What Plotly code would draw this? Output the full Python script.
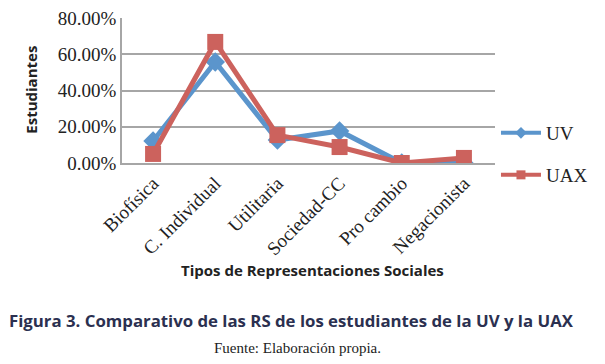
import plotly.graph_objects as go

categories = ["Biofísica", "C. Individual", "Utilitaria", "Sociedad-CC", "Pro cambio", "Negacionista"]
uv = [0.121, 0.557, 0.127, 0.177, 0.0, 0.0]
uax = [0.05, 0.668, 0.154, 0.088, 0.0, 0.028]
y_ticks = [0, 0.2, 0.4, 0.6, 0.8]
y_tick_labels = ["0.00%", "20.00%", "40.00%", "60.00%", "80.00%"]

W, H = 605, 364
L, R, T, B = 122, 99, 18, 201
BLUE, RED = "#5b95cc", "#cc625d"

fig = go.Figure()
fig.add_trace(go.Scatter(
    x=categories, y=uv, name="UV", mode="lines+markers",
    line=dict(color=BLUE, width=5),
    marker=dict(symbol="diamond", size=15, color=BLUE),
    showlegend=False,
))
fig.add_trace(go.Scatter(
    x=categories, y=uax, name="UAX", mode="lines+markers",
    line=dict(color=RED, width=5),
    marker=dict(symbol="square", size=16, color=RED),
    showlegend=False,
))
# legend entries (smaller symbols as in reference)
fig.add_trace(go.Scatter(
    x=[None], y=[None], name="UV", mode="lines+markers",
    line=dict(color=BLUE, width=4),
    marker=dict(symbol="diamond", size=9, color=BLUE),
    legend="legend",
))
fig.add_trace(go.Scatter(
    x=[None], y=[None], name="UAX", mode="lines+markers",
    line=dict(color=RED, width=4),
    marker=dict(symbol="square", size=9, color=RED),
    legend="legend2",
))

serif = "Liberation Serif"
sans = "Open Sans"
LX = (507 - L) / (W - L - R)

fig.update_layout(
    width=W, height=H,
    margin=dict(l=L, r=R, t=T, b=B),
    paper_bgcolor="white", plot_bgcolor="white",
    xaxis=dict(
        type="category", range=[-0.5, 5.5],
        showline=True, linecolor="#a6a6a6", linewidth=1.5,
        showgrid=False, ticks="", tickangle=-45,
        tickfont=dict(family=serif, size=19, color="#222"),
        automargin=False,
    ),
    yaxis=dict(
        range=[0, 0.8], tickvals=y_ticks, ticktext=y_tick_labels,
        showline=True, linecolor="#a6a6a6", linewidth=1.5,
        showgrid=True, gridcolor="#a6a6a6", gridwidth=1.5,
        zeroline=False, ticks="",
        tickfont=dict(family=serif, size=19, color="#222"),
        automargin=False,
    ),
    legend=dict(
        x=LX, y=(163 - 133) / 145, xanchor="left", yanchor="middle",
        font=dict(family=serif, size=19, color="#222"),
        bgcolor="rgba(0,0,0,0)", itemwidth=40,
    ),
    legend2=dict(
        x=LX, y=(163 - 175) / 145, xanchor="left", yanchor="middle",
        font=dict(family=serif, size=19, color="#222"),
        bgcolor="rgba(0,0,0,0)", itemwidth=40,
    ),
    showlegend=True,
)


def px_to_paper(xp, yp):
    return (xp - L) / (W - L - R), (H - B - yp) / (H - T - B)


ax, ay = px_to_paper(28, 90)
fig.add_annotation(text="<b>Estudiantes</b>", x=ax, y=ay, xref="paper", yref="paper",
                   showarrow=False, textangle=-90, xanchor="center", yanchor="middle",
                   font=dict(family=sans, size=15, color="#222"))
ax, ay = px_to_paper(318, 270)
fig.add_annotation(text="<b>Tipos de Representaciones Sociales</b>", x=ax, y=ay, xref="paper", yref="paper",
                   showarrow=False, xanchor="center", yanchor="middle",
                   font=dict(family=sans, size=15, color="#222"))
ax, ay = px_to_paper(297, 320)
fig.add_annotation(text="<b>Figura 3. Comparativo de las RS de los estudiantes de la UV y la UAX</b>",
                   x=ax, y=ay, xref="paper", yref="paper",
                   showarrow=False, xanchor="center", yanchor="middle",
                   font=dict(family=sans, size=16.8, color="#2b3050"))
ax, ay = px_to_paper(303, 348)
fig.add_annotation(text="Fuente: Elaboración propia.", x=ax, y=ay, xref="paper", yref="paper",
                   showarrow=False, xanchor="center", yanchor="middle",
                   font=dict(family=serif, size=15, color="#222"))

fig.write_html("out.html", config={"displayModeBar": False},
               post_script="document.body.style.margin='0';document.body.style.overflow='hidden';")
